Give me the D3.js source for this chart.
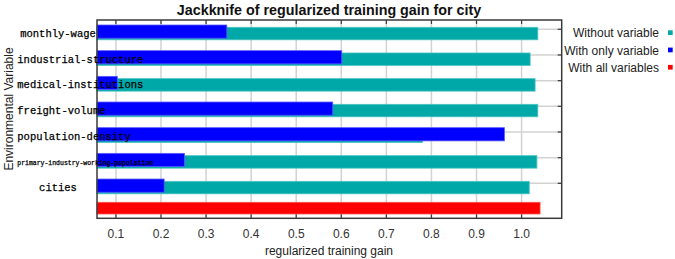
<!DOCTYPE html>
<html><head><meta charset="utf-8">
<script src="https://cdn.jsdelivr.net/npm/d3@7"></script>
<style>body{margin:0;background:#fff;} svg{display:block;}</style>
</head><body>
<svg id="c" width="675" height="259"></svg>
<script>
const variables = ["monthly-wage","industrial-structure","medical-institutions","freight-volume","population-density","primary-industry-working-population","cities"];
const withoutVariable = [1.036,1.019,1.030,1.036,0.780,1.034,1.017];
const withOnlyVariable = [0.346,0.601,0.103,0.581,0.962,0.252,0.207];
const withAllVariables = 1.041;
const xTicks = [0.1,0.2,0.3,0.4,0.5,0.6,0.7,0.8,0.9,1.0];
const legendLabels = ["Without variable","With only variable","With all variables"];
const colors = {without:"#00a8a8", only:"#0000ff", all:"#ff0000"};

const svg = d3.select("#c");
const L=97, R=561.7, T=20, B=218.3;
const x = d3.scaleLinear().domain([0.058,1.089]).range([L,R]);
const rows = variables.concat(["__all__"]);
const y = d3.scalePoint().domain(rows).range([29.3,209]);

// grid
svg.append("g").selectAll("line").data(xTicks).join("line")
  .attr("x1",d=>x(d)).attr("x2",d=>x(d)).attr("y1",T).attr("y2",B)
  .attr("stroke","#d2d2d2").attr("stroke-width",1.5);
svg.append("g").selectAll("line").data(variables).join("line")
  .attr("x1",L).attr("x2",R).attr("y1",d=>y(d)).attr("y2",d=>y(d))
  .attr("stroke","#d2d2d2").attr("stroke-width",1.5);

// bars
const data = variables.map((v,i)=>({v, wo:withoutVariable[i], on:withOnlyVariable[i]}));
svg.append("g").selectAll("rect").data(data).join("rect")
  .attr("x",L).attr("y",d=>y(d.v)-2).attr("height",12.5)
  .attr("width",d=>x(d.wo)-L).attr("fill",colors.without)
  .attr("stroke","#4cc4c4").attr("stroke-width",0.8);
svg.append("g").selectAll("rect").data(data).join("rect")
  .attr("x",L).attr("y",d=>y(d.v)-4.3).attr("height",13.2)
  .attr("width",d=>x(d.on)-L).attr("fill",colors.only)
  .attr("stroke","#5a5aff").attr("stroke-width",0.8);
svg.append("rect").attr("x",L).attr("y",y("__all__")-6.7).attr("height",11.7)
  .attr("width",x(withAllVariables)-L).attr("fill",colors.all)
  .attr("stroke","#ff5050").attr("stroke-width",0.8);

// frame
svg.append("rect").attr("x",L).attr("y",T).attr("width",R-L).attr("height",B-T)
  .attr("fill","none").attr("stroke","#3a3a3a").attr("stroke-width",1.5);

// inward ticks
const tk = svg.append("g").attr("stroke","#3a3a3a").attr("stroke-width",1.2);
tk.selectAll(".t").data(xTicks).join("line").attr("class","t")
  .attr("x1",d=>x(d)).attr("x2",d=>x(d)).attr("y1",T).attr("y2",T+4);
tk.selectAll(".b").data(xTicks).join("line").attr("class","b")
  .attr("x1",d=>x(d)).attr("x2",d=>x(d)).attr("y1",B).attr("y2",B-4);
tk.selectAll(".r").data(variables).join("line").attr("class","r")
  .attr("x1",R).attr("x2",R-4).attr("y1",d=>y(d)).attr("y2",d=>y(d));

// x tick labels
svg.append("g").selectAll("text").data(xTicks).join("text")
  .attr("x",d=>x(d)).attr("y",238).attr("text-anchor","middle")
  .attr("font-family","Liberation Sans, Arial, sans-serif").attr("font-size",12)
  .attr("fill","#333").text(d=>d3.format(".1f")(d));

// y labels
const yl = svg.append("g").selectAll("text").data(variables).join("text")
  .attr("y",d=>y(d)+7.8)
  .attr("font-family","Liberation Mono, DejaVu Sans Mono, monospace")
  .attr("font-size",10.5).attr("fill","#000").attr("stroke","#000").attr("stroke-width",0.25)
  .text(d=>d);
yl.each(function(){
  const el=d3.select(this);
  let w=this.getComputedTextLength();
  if(w>140){ const fs=10.5*136/w; el.attr("font-size",fs); w=this.getComputedTextLength(); }
  el.attr("x",Math.max(17.3,58-w/2));
});

// titles
svg.append("text").attr("x",329).attr("y",15).attr("text-anchor","middle")
  .attr("font-family","Liberation Sans, Arial, sans-serif").attr("font-size",14.3)
  .attr("font-weight","bold").attr("fill","#111")
  .text("Jackknife of regularized training gain for city");
svg.append("text").attr("x",329).attr("y",255).attr("text-anchor","middle")
  .attr("font-family","Liberation Sans, Arial, sans-serif").attr("font-size",12)
  .attr("fill","#222").text("regularized training gain");
svg.append("text").attr("transform","translate(13,109) rotate(-90)").attr("text-anchor","middle")
  .attr("font-family","Liberation Sans, Arial, sans-serif").attr("font-size",12)
  .attr("fill","#222").text("Environmental Variable");

// legend
const lc=[colors.without,colors.only,colors.all];
const lg=svg.append("g");
lg.selectAll("text").data(legendLabels).join("text")
  .attr("x",659).attr("y",(d,i)=>37.3+i*17.3).attr("text-anchor","end")
  .attr("font-family","Liberation Sans, Arial, sans-serif").attr("font-size",12)
  .attr("fill","#222").text(d=>d);
lg.selectAll("rect").data(legendLabels).join("rect")
  .attr("x",668).attr("y",(d,i)=>30.3+i*17.3).attr("width",4.7).attr("height",4.7)
  .attr("fill",(d,i)=>lc[i]);
</script>
</body></html>
